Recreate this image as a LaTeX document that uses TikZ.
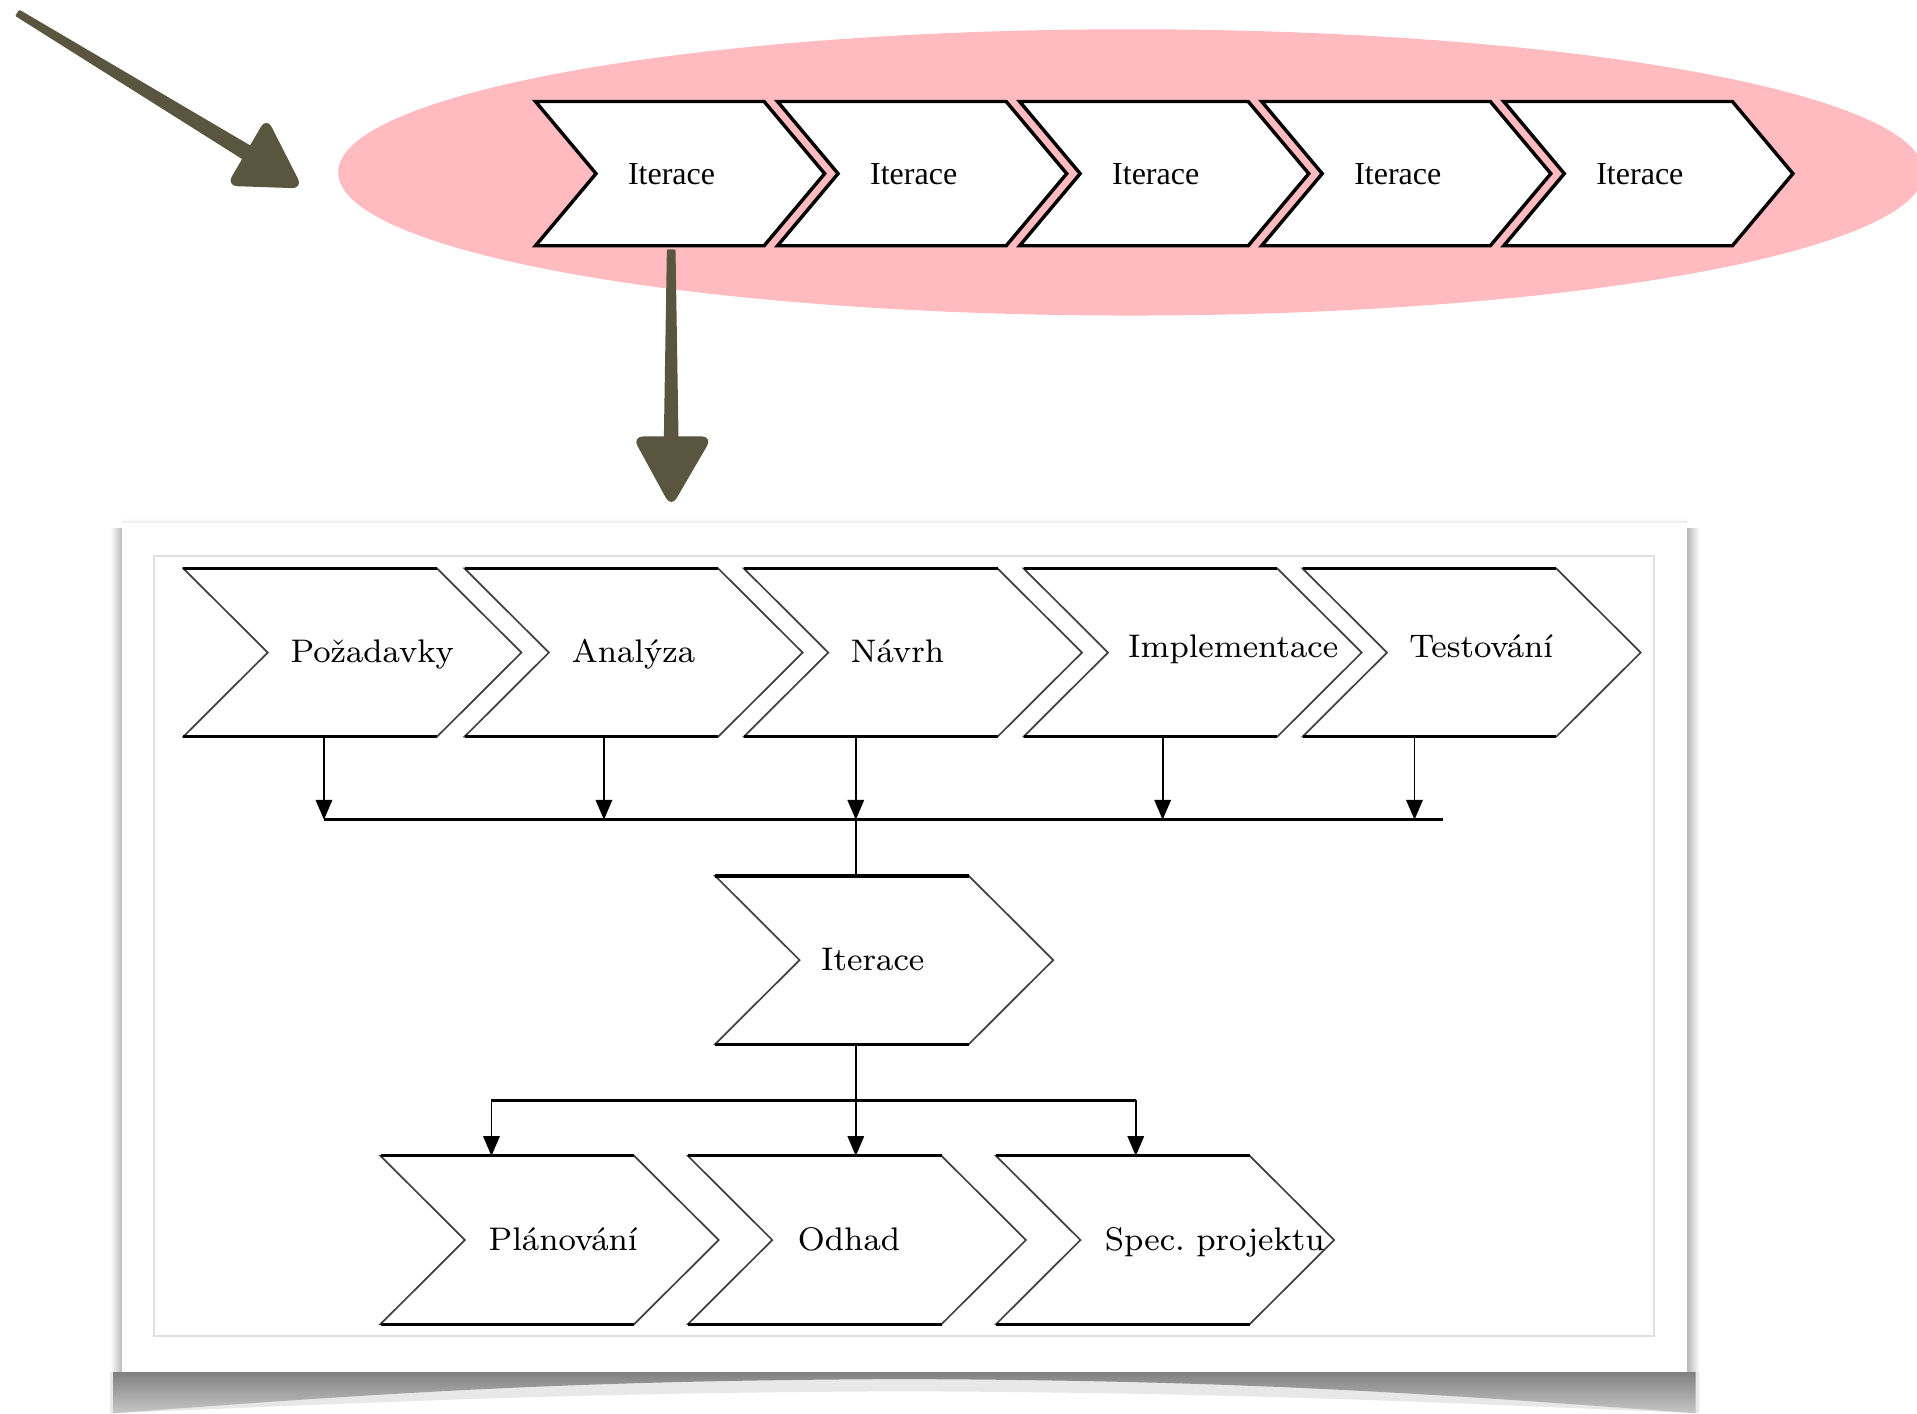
\documentclass[tikz,border=0pt]{standalone}
\usepackage{fontspec}
\newfontfamily\tmsfont{Liberation Serif}
\usetikzlibrary{arrows.meta,shapes.geometric,calc}
\definecolor{pinkfill}{RGB}{255,187,192}
\definecolor{olivebrush}{RGB}{90,85,62}

% chevron of the lower diagram: #1 left x, #2 top y
\newcommand\lowchev[2]{%
  \draw[lowchev] (#1,#2) -- ++(207.5,0) -- ++(69,68.75) -- ++(-69,68.75)
     -- ++(-207.5,0) -- ++(69,-68.75) -- cycle;
  \draw[lowedge] (#1,#2) -- ++(207.5,0) (#1,#2+137.5) -- ++(207.5,0);
}

\begin{document}
\begin{tikzpicture}[x=0.01cm,y=-0.01cm,
  topchev/.style={draw=black,line width=0.8pt,fill=white,line join=miter},
  lowchev/.style={draw=black!75,line width=0.4pt,fill=white},
  lowedge/.style={draw=black,line width=0.7pt},
  toplab/.style={anchor=base west,inner sep=0,font=\tmsfont\fontsize{7.45}{9}\selectfont},
  lowlab/.style={anchor=base west,inner sep=0,font=\frenchspacing\fontsize{7.6}{9}\selectfont},
  conn/.style={draw=black,line width=0.45pt},
  connarrow/.style={conn,-{Triangle[length=4.6pt,width=3.8pt]}},
  bus/.style={draw=black,line width=0.7pt},
  brush/.style={fill=olivebrush,draw=olivebrush,line join=round,line width=0.6pt}
]
\path[use as bounding box,clip] (0,0) rectangle (1568,1156);
\fill[white] (0,0) rectangle (1568,1156);

% ---- iteration cycle -------------------------------------------------
\node[ellipse,fill=pinkfill,minimum width=12.96cm,minimum height=2.34cm,inner sep=0]
  (cycle) at (925,141) {};

\foreach \i in {1,...,5}{
  \pgfmathsetmacro\xl{438+198*(\i-1)}
  \draw[topchev] (\xl,83) -- ++(187,0) -- ++(49.5,59) -- ++(-49.5,59)
     -- ++(-187,0) -- ++(49.5,-59) -- cycle;
  \node[toplab] (it\i) at (\xl+75,151.3) {Iterace};
}

% ---- brush arrows ----------------------------------------------------
\coordinate (tl-tip) at (246,153);
\coordinate (dn-top) at (549,205);
\coordinate (dn-tip) at (549,413);
\fill[brush] (13.9,12.7) -- (16.1,9.3) -- (210,123.3) -- (204.2,132.7) -- cycle;
\filldraw[brush,rounded corners=2] (187,151) -- (218,98) -- (tl-tip) -- cycle;
\fill[brush] ($(dn-top)+(-2.5,0)$) -- ($(dn-top)+(2.5,0)$) -- (554,362) -- (544,362) -- cycle;
\filldraw[brush,rounded corners=2] (519,358) -- (581,358) -- (dn-tip) -- cycle;

% ---- framed panel ----------------------------------------------------
\fill[black!25,opacity=0.35] (90,1122) -- (1390,1122) -- (1390,1156)
   .. controls (1150,1146) and (1000,1139) .. (740,1138)
   .. controls (480,1139) and (330,1146) .. (90,1156) -- cycle;
\shade[top color=black!50,bottom color=black!22] (93,1122) -- (1387,1122) -- (1387,1156)
   .. controls (1150,1138) and (1000,1129) .. (740,1128)
   .. controls (480,1129) and (330,1138) .. (93,1156) -- cycle;
\shade[left color=white,right color=black!28] (90,432) rectangle (100,1122);
\shade[left color=black!28,right color=white] (1380,432) rectangle (1390,1122);
\shade[top color=white,bottom color=black!10] (100,424) rectangle (1380,428);
\fill[white] (100,428) rectangle (1380,1122);
\draw[black!12,line width=0.5pt] (126,455) rectangle (1353,1093);

% ---- phases of one iteration ------------------------------------------
\lowchev{150}{465}
\lowchev{380}{465}
\lowchev{608.5}{465}
\lowchev{837.3}{465}
\lowchev{1065.5}{465}
\node[lowlab] (poz)  at (237,542)  {Požadavky};
\node[lowlab] (ana)  at (467,542)  {Analýza};
\node[lowlab] (nav)  at (695,542)  {Návrh};
\node[lowlab] (imp)  at (922,538)  {Implementace};
\node[lowlab] (tst)  at (1152,538) {Testování};

\coordinate (p1) at (265,602);
\coordinate (p2) at (494,602);
\coordinate (p3) at (700,602);
\coordinate (p4) at (951,602);
\coordinate (p5) at (1157,602);
\coordinate (busA) at (265,670.5);
\coordinate (busB) at (1180,670.5);
\foreach \p in {p1,p2,p3,p4,p5}
  \draw[connarrow] (\p) -- (\p |- busA);
\draw[bus] (busA) -- (busB);

% central iteration
\lowchev{585}{716.5}
\node[lowlab] (mid) at (671,793.5) {Iterace};
\coordinate (mt) at (700,716.5);
\coordinate (mb) at (700,853.5);
\draw[conn] (mt |- busA) -- (mt);

% planning outputs
\coordinate (bus2L) at (402,900);
\coordinate (bus2R) at (929,900);
\coordinate (b1) at (402,945.5);
\coordinate (b2) at (700,945.5);
\coordinate (b3) at (929,945.5);
\draw[conn] (mb) -- (mb |- bus2L);
\draw[bus] (bus2L) -- (bus2R);
\foreach \b in {b1,b2,b3}
  \draw[connarrow] (\b |- bus2L) -- (\b);

\lowchev{311.3}{945.5}
\lowchev{562.7}{945.5}
\lowchev{814.8}{945.5}
\node[lowlab] (pla) at (399,1022.5) {Plánování};
\node[lowlab] (odh) at (652,1022.5) {Odhad};
\node[lowlab] (spe) at (903,1022.5) {Spec. projektu};
\end{tikzpicture}
\end{document}
